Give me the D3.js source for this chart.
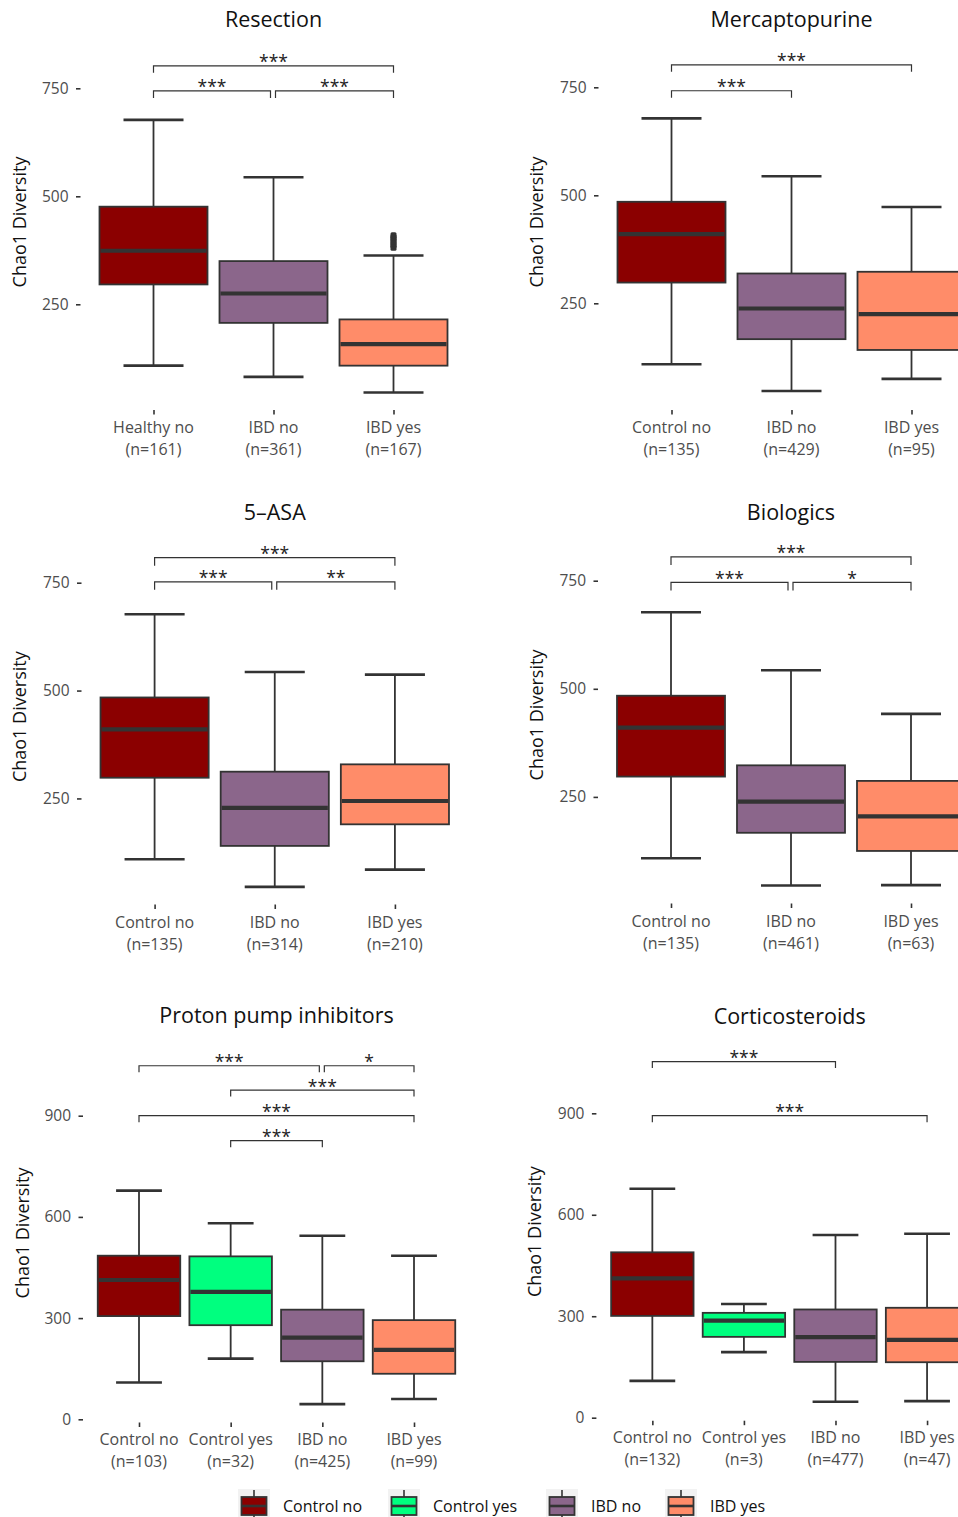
<!DOCTYPE html>
<html><head><meta charset="utf-8">
<script src="https://cdn.jsdelivr.net/npm/d3@7"></script>
<style>
html,body{margin:0;padding:0;background:#fff;}
svg{display:block;font-family:"Open Sans",sans-serif;}
</style></head><body>
<svg id="chart" width="958" height="1517"></svg>
<script>
// ---------------- DATA ----------------
// stats per group: [lower whisker, Q1, median, Q3, upper whisker]
const resectionTitle = "Resection";
const resectionGroups = ["Healthy no", "IBD no", "IBD yes"];
const resectionN = [161, 361, 167];
const resectionStats = [[108, 296, 374, 476, 677], [82, 207, 275, 350, 544], [46, 108, 158, 215, 363]];
const resectionOutliers = [[], [], [381, 386, 391, 396, 401, 405, 410]];
const resectionBrackets = [[0, 2, 802, "***"], [0, 1, 744, "***"], [1, 2, 744, "***"]];

const mercaptoTitle = "Mercaptopurine";
const mercaptoGroups = ["Control no", "IBD no", "IBD yes"];
const mercaptoN = [135, 429, 95];
const mercaptoStats = [[109, 298, 410, 485, 678], [47, 167, 238, 319, 544], [75, 142, 225, 323, 473]];
const mercaptoBrackets = [[0, 2, 802, "***"], [0, 1, 742, "***"]];

const asaTitle = "5\u2013ASA";
const asaGroups = ["Control no", "IBD no", "IBD yes"];
const asaN = [135, 314, 210];
const asaStats = [[109, 298, 410, 484, 677], [45, 140, 228, 312, 543], [85, 190, 244, 329, 537]];
const asaBrackets = [[0, 2, 808, "***"], [0, 1, 752, "***"], [1, 2, 752, "**"]];

const biologicsTitle = "Biologics";
const biologicsGroups = ["Control no", "IBD no", "IBD yes"];
const biologicsN = [135, 461, 63];
const biologicsStats = [[108, 297, 410, 484, 677], [45, 167, 239, 323, 543], [46, 125, 205, 287, 442]];
const biologicsBrackets = [[0, 2, 805, "***"], [0, 1, 746, "***"], [1, 2, 746, "*"]];

const ppiTitle = "Proton pump inhibitors";
const ppiGroups = ["Control no", "Control yes", "IBD no", "IBD yes"];
const ppiN = [103, 32, 425, 99];
const ppiStats = [[109, 306, 413, 485, 678], [180, 279, 378, 483, 581], [45, 172, 242, 325, 544], [60, 135, 206, 294, 485]];
const ppiBrackets = [[0, 2, 1048, "***"], [2, 3, 1048, "*"], [1, 3, 976, "***"], [0, 3, 900, "***"], [1, 2, 826, "***"]];

const corticoTitle = "Corticosteroids";
const corticoGroups = ["Control no", "Control yes", "IBD no", "IBD yes"];
const corticoN = [132, 3, 477, 47];
const corticoStats = [[109, 301, 412, 489, 677], [194, 239, 287, 310, 336], [47, 165, 238, 320, 540], [49, 164, 230, 325, 544]];
const corticoBrackets = [[0, 2, 1053, "***"], [0, 3, 893, "***"]];

const ticksLow = [250, 500, 750];
const ticksHigh = [0, 300, 600, 900];
const yAxisLabel = "Chao1 Diversity";
const legendGroups = ["Control no", "Control yes", "IBD no", "IBD yes"];

// ---------------- STYLE / LAYOUT ----------------
const fillColor = {"Healthy no": "#8B0000", "Control no": "#8B0000", "Control yes": "#00FF7F", "IBD no": "#8B668B", "IBD yes": "#FF8C69"};
const lineCol = "#333333";
const textGrey = "#4D4D4D";

const panels = [
  {title: resectionTitle, groups: resectionGroups, n: resectionN, stats: resectionStats, outliers: resectionOutliers, brackets: resectionBrackets, ticks: ticksLow, dom: [0, 750],
   xr: [81.5, 465.5], yr: [412.3, 88.3], bottom: 410, titleY: 26.5, ytX: 26, ytY: 222, xl1: 433, xl2: 455, tip: 7},
  {title: mercaptoTitle, groups: mercaptoGroups, n: mercaptoN, stats: mercaptoStats, brackets: mercaptoBrackets, ticks: ticksLow, dom: [0, 750],
   xr: [599.5, 983.5], yr: [411.3, 87.3], bottom: 410, titleY: 26.5, ytX: 543, ytY: 222, xl1: 432.5, xl2: 455, tip: 7},
  {title: asaTitle, groups: asaGroups, n: asaN, stats: asaStats, brackets: asaBrackets, ticks: ticksLow, dom: [0, 750],
   xr: [82.5, 467], yr: [906.3, 582.7], bottom: 904.5, titleY: 519.5, ytX: 26, ytY: 716.7, xl1: 928, xl2: 950, tip: 8},
  {title: biologicsTitle, groups: biologicsGroups, n: biologicsN, stats: biologicsStats, brackets: biologicsBrackets, ticks: ticksLow, dom: [0, 750],
   xr: [599, 983], yr: [905, 580.7], bottom: 903.5, titleY: 520, ytX: 543, ytY: 715, xl1: 927, xl2: 949, tip: 8},
  {title: ppiTitle, groups: ppiGroups, n: ppiN, stats: ppiStats, brackets: ppiBrackets, ticks: ticksHigh, dom: [0, 900],
   xr: [84, 469], yr: [1419.3, 1115.7], bottom: 1422.5, titleY: 1022.7, ytX: 29, ytY: 1233, xl1: 1445, xl2: 1467, tip: 6.5},
  {title: corticoTitle, groups: corticoGroups, n: corticoN, stats: corticoStats, brackets: corticoBrackets, ticks: ticksHigh, dom: [0, 900],
   xr: [597.4, 982], yr: [1417.7, 1113.3], bottom: 1420.7, titleY: 1024, ytX: 541, ytY: 1231.7, xl1: 1442.5, xl2: 1465, tip: 6.5}
];

const svg = d3.select("#chart");

panels.forEach(p => {
  const g = svg.append("g");
  const x = d3.scalePoint().domain(p.groups).range(p.xr).padding(0.6);
  const y = d3.scaleLinear().domain(p.dom).range(p.yr);
  const step = x.step();
  const bw = step * 0.9, cw = step * 0.5;
  const left = p.xr[0];

  // title
  g.append("text").attr("x", (p.xr[0] + p.xr[1]) / 2).attr("y", p.titleY)
    .attr("text-anchor", "middle").attr("font-size", 21.5).attr("fill", "#111").text(p.title);

  // y axis title
  g.append("text").attr("transform", `translate(${p.ytX},${p.ytY}) rotate(-90)`)
    .attr("text-anchor", "middle").attr("font-size", 18).attr("fill", "#111").text(yAxisLabel);

  // y axis via d3 axis
  const yAxis = d3.axisLeft(y).tickValues(p.ticks).tickSize(4.5).tickPadding(7.5);
  const ya = g.append("g").attr("transform", `translate(${left - 1},0)`).call(yAxis);
  ya.select(".domain").remove();
  ya.selectAll(".tick line").attr("stroke", lineCol).attr("stroke-width", 1.6);
  ya.selectAll(".tick text").attr("fill", textGrey).attr("font-size", 15.5)
    .attr("font-family", "'Open Sans',sans-serif");

  // x axis via d3 axis
  const xAxis = d3.axisBottom(x).tickSize(4.5).tickFormat("");
  const xa = g.append("g").attr("transform", `translate(0,${p.bottom})`).call(xAxis);
  xa.select(".domain").remove();
  xa.selectAll(".tick line").attr("stroke", lineCol).attr("stroke-width", 1.6);

  // x labels (two lines)
  p.groups.forEach((grp, i) => {
    g.append("text").attr("x", x(grp)).attr("y", p.xl1).attr("text-anchor", "middle")
      .attr("font-size", 16).attr("fill", textGrey).text(grp);
    g.append("text").attr("x", x(grp)).attr("y", p.xl2).attr("text-anchor", "middle")
      .attr("font-size", 16).attr("fill", textGrey).text(`(n=${p.n[i]})`);
  });

  // boxes
  const boxes = g.selectAll("g.box").data(p.groups.map((grp, i) => ({grp, s: p.stats[i], o: p.outliers ? p.outliers[i] : []})))
    .enter().append("g").attr("class", "box");
  // whiskers
  boxes.append("line").attr("x1", d => x(d.grp)).attr("x2", d => x(d.grp))
    .attr("y1", d => y(d.s[4])).attr("y2", d => y(d.s[0]))
    .attr("stroke", lineCol).attr("stroke-width", 1.8);
  // caps
  boxes.append("line").attr("x1", d => x(d.grp) - cw / 2).attr("x2", d => x(d.grp) + cw / 2)
    .attr("y1", d => y(d.s[4])).attr("y2", d => y(d.s[4]))
    .attr("stroke", lineCol).attr("stroke-width", 2.6);
  boxes.append("line").attr("x1", d => x(d.grp) - cw / 2).attr("x2", d => x(d.grp) + cw / 2)
    .attr("y1", d => y(d.s[0])).attr("y2", d => y(d.s[0]))
    .attr("stroke", lineCol).attr("stroke-width", 2.6);
  // box
  boxes.append("rect").attr("x", d => x(d.grp) - bw / 2).attr("width", bw)
    .attr("y", d => y(d.s[3])).attr("height", d => y(d.s[1]) - y(d.s[3]))
    .attr("fill", d => fillColor[d.grp]).attr("stroke", lineCol).attr("stroke-width", 1.8);
  // median
  boxes.append("line").attr("x1", d => x(d.grp) - bw / 2 + 1).attr("x2", d => x(d.grp) + bw / 2 - 1)
    .attr("y1", d => y(d.s[2])).attr("y2", d => y(d.s[2]))
    .attr("stroke", lineCol).attr("stroke-width", 4.2);
  // outliers
  boxes.each(function (d) {
    d3.select(this).selectAll("rect.out").data(d.o).enter().append("rect").attr("class", "out")
      .attr("x", x(d.grp) - 3).attr("y", v => y(v) - 3).attr("width", 6).attr("height", 6)
      .attr("rx", 1.5).attr("fill", lineCol);
  });

  // significance brackets
  p.brackets.forEach(b => {
    const [i0, i1, yv, lab] = b;
    let xa0 = x(p.groups[i0]), xa1 = x(p.groups[i1]);
    // nudge brackets that share an endpoint on the same level
    p.brackets.forEach(o => {
      if (o === b || o[2] !== yv) return;
      if (o[0] === i1) xa1 -= 3;
      if (o[1] === i0) xa0 += 2;
    });
    const yy = y(yv);
    g.append("path")
      .attr("d", `M${xa0},${yy + p.tip}V${yy}H${xa1}V${yy + p.tip}`)
      .attr("fill", "none").attr("stroke", lineCol).attr("stroke-width", 1.2);
    g.append("text").attr("x", (xa0 + xa1) / 2).attr("y", yy + 2.5)
      .attr("text-anchor", "middle").attr("font-size", 17.5).attr("fill", "#222").text(lab);
  });
});

// ---------------- LEGEND ----------------
const legendX = [238, 388, 546, 665];
const lg = svg.append("g");
legendGroups.forEach((grp, i) => {
  const x0 = legendX[i];
  const it = lg.append("g").attr("transform", `translate(${x0},1489)`);
  it.append("rect").attr("width", 32).attr("height", 32).attr("fill", "#F2F2F2");
  it.append("line").attr("x1", 16).attr("x2", 16).attr("y1", 1).attr("y2", 31)
    .attr("stroke", lineCol).attr("stroke-width", 1.6);
  it.append("rect").attr("x", 3.5).attr("y", 8).attr("width", 25).attr("height", 18)
    .attr("fill", fillColor[grp]).attr("stroke", lineCol).attr("stroke-width", 1.8);
  it.append("line").attr("x1", 4).attr("x2", 28).attr("y1", 17).attr("y2", 17)
    .attr("stroke", lineCol).attr("stroke-width", 2.6);
  it.append("text").attr("x", 45).attr("y", 22.5).attr("font-size", 16).attr("fill", "#111").text(grp);
});
</script>
</body></html>
